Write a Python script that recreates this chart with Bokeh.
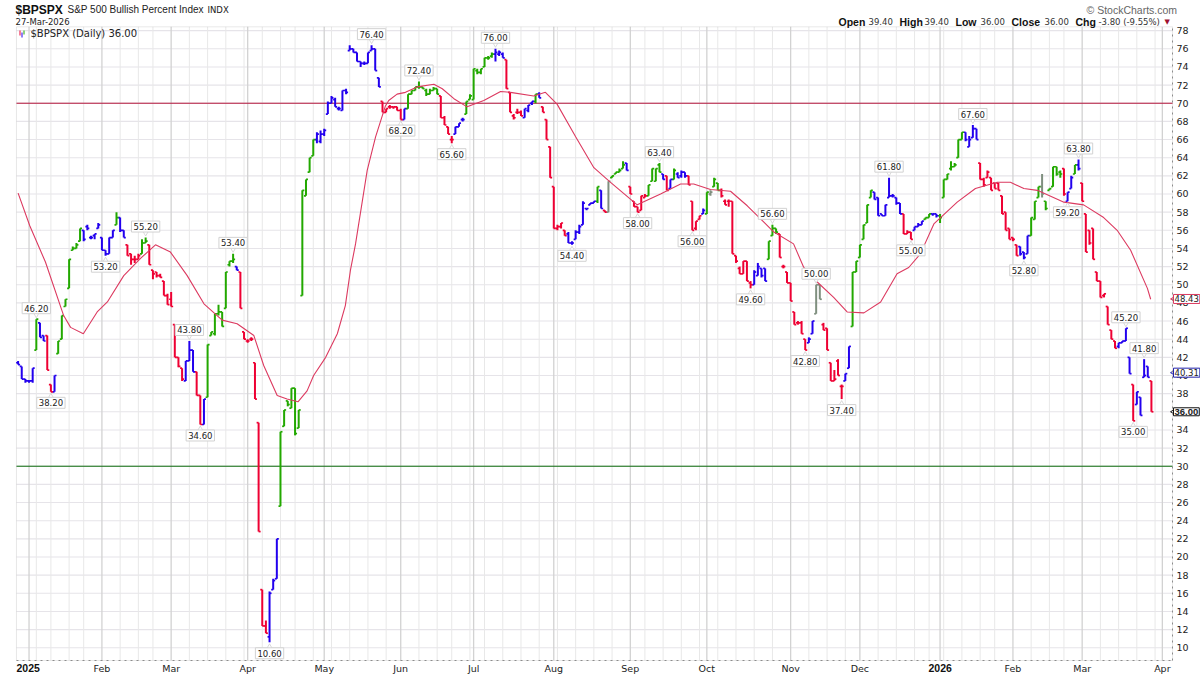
# $BPSPX daily bars with moving average, stockcharts style
import math

from bokeh.embed import file_html
from bokeh.models import BoxAnnotation, ColumnDataSource, FixedTicker, Label
from bokeh.plotting import figure
from bokeh.resources import INLINE

opens = [41.4,41.0,39.6,39.4,39.4,42.8,45.8,44.4,44.4,39.0,
 38.2,42.4,44.0,47.6,49.6,53.8,54.0,54.8,56.0,56.4,
 55.2,55.4,56.2,55.2,53.8,53.4,55.2,56.6,57.4,56.0,
 54.4,53.4,52.8,52.8,53.4,54.6,54.4,51.6,51.4,51.0,
 50.4,48.8,48.4,45.6,42.0,40.8,39.4,41.6,42.8,40.4,
 37.8,34.6,37.6,44.4,44.6,46.8,47.0,47.4,52.2,52.6,
 52.0,51.4,44.8,43.8,44.0,41.4,34.8,16.4,12.4,11.2,
 16.4,17.6,25.6,34.4,37.2,36.4,38.6,34.2,48.8,59.8,
 62.4,64.2,66.0,65.8,66.6,68.8,70.0,70.4,69.4,69.2,
 71.4,75.8,76.0,75.6,74.6,74.4,74.4,75.8,76.0,72.8,
 70.2,69.0,69.6,69.6,69.6,69.2,68.2,69.4,71.0,71.4,
 71.8,71.8,71.4,71.0,71.4,71.6,70.8,68.4,67.4,66.0,
 66.6,67.4,68.2,68.8,70.4,70.4,73.6,73.4,74.0,75.0,
 75.2,75.4,75.4,75.4,74.8,71.2,68.6,69.0,69.0,68.4,
 69.2,70.0,70.2,71.0,69.6,68.2,65.2,60.8,56.2,56.4,
 56.0,55.6,54.6,55.0,55.8,56.6,58.4,58.8,59.0,59.2,
 60.4,58.2,58.0,61.8,62.2,62.4,62.8,63.4,60.8,59.2,
 58.6,58.2,59.6,59.8,61.4,61.4,63.2,62.2,62.0,60.6,
 61.6,62.2,62.0,62.4,62.0,59.2,56.2,57.2,57.8,57.8,
 60.0,60.8,61.2,60.4,59.2,59.2,59.2,53.2,51.8,51.2,
 52.6,50.2,50.0,51.0,51.8,51.8,52.8,55.4,56.2,55.6,
 52.0,51.4,50.2,47.0,45.8,45.8,44.0,43.6,44.6,46.8,
 50.0,45.6,45.2,41.4,39.4,41.6,38.8,39.4,40.8,45.4,
 51.4,53.0,55.0,56.8,59.6,60.2,59.6,57.8,57.6,59.6,
 59.8,59.6,59.0,57.8,55.6,55.8,56.0,56.4,56.6,57.2,
 57.4,57.8,57.8,57.6,59.6,61.6,62.8,63.0,64.0,66.0,
 66.8,65.2,66.2,67.2,63.4,61.6,61.8,61.8,61.2,61.2,
 59.8,58.0,56.2,55.2,54.4,54.2,53.6,53.4,55.4,57.2,
 59.6,60.8,59.2,60.4,60.8,63.0,62.4,62.8,59.2,60.6,
 62.2,63.2,61.2,57.8,56.0,56.2,51.4,50.4,48.8,47.6,
 45.0,43.8,43.2,43.6,43.8,42.0,39.0,36.8,37.6,39.8,41.0,39.4]

highs = [41.6,41.0,39.6,39.4,40.8,46.2,45.8,44.4,44.4,39.0,
 40.0,43.8,46.6,48.4,52.8,54.2,54.6,56.2,56.0,56.6,
 55.4,55.6,56.8,55.2,53.8,55.2,56.0,58.0,57.4,56.0,
 54.4,53.4,53.2,53.4,55.0,55.2,54.4,51.6,51.4,51.2,
 50.4,49.0,49.2,45.6,42.0,40.8,41.6,43.8,42.8,40.4,
 37.8,37.4,43.4,44.8,46.8,47.8,47.0,51.4,52.6,53.4,
 52.0,51.4,44.8,44.0,44.2,41.4,34.8,16.4,13.0,16.2,
 17.6,22.0,33.8,36.2,37.2,38.6,38.6,36.2,60.4,61.6,
 64.0,66.0,66.8,67.0,67.2,70.2,70.8,70.6,69.6,71.4,
 71.6,76.4,76.0,75.6,74.6,74.6,75.6,76.4,76.0,72.8,
 70.2,69.4,69.8,69.6,69.6,69.4,69.4,71.0,71.4,71.8,
 72.4,71.8,71.6,71.6,71.8,71.6,70.8,68.6,67.4,66.4,
 67.4,67.8,68.4,70.2,71.0,73.8,73.8,73.8,75.0,75.2,
 75.6,76.0,75.8,75.6,74.8,71.2,68.8,69.4,69.2,69.4,
 69.8,70.2,71.0,71.2,69.6,68.2,65.2,60.8,56.6,56.8,
 56.0,55.8,54.8,56.0,56.6,59.2,58.4,59.0,59.2,60.8,
 60.4,58.2,61.4,62.0,62.4,62.8,63.6,63.4,60.8,59.2,
 58.6,59.8,60.0,61.0,62.8,62.8,63.4,62.2,62.0,61.6,
 62.8,62.4,62.6,62.4,62.0,59.2,57.0,57.6,58.4,60.2,
 60.4,61.8,61.2,60.6,59.4,59.4,59.2,53.2,52.0,52.6,
 52.6,50.4,51.6,52.4,51.8,51.8,54.8,56.6,56.2,55.6,
 52.2,51.4,50.2,47.0,46.0,46.0,44.0,44.2,46.0,50.0,
 50.0,45.8,45.2,41.4,40.6,41.8,39.0,40.2,43.2,51.4,
 52.6,54.4,56.6,58.8,60.4,60.2,59.6,57.8,58.8,61.8,
 60.0,59.6,59.0,57.8,56.0,55.8,56.4,56.8,57.0,57.4,
 57.8,57.8,57.8,57.8,61.6,62.2,63.6,63.4,66.0,66.8,
 66.8,66.4,67.6,67.2,63.4,61.8,62.6,61.8,61.2,61.2,
 59.8,58.0,56.2,55.2,54.4,54.2,53.6,55.4,57.4,59.2,
 60.8,62.2,59.2,60.6,63.0,63.0,62.6,62.8,60.2,62.0,
 63.2,63.8,61.2,57.8,56.0,56.2,51.4,50.4,49.0,47.6,
 45.0,43.8,43.6,43.8,45.2,42.0,39.0,38.2,37.6,41.8,41.0,39.4]

lows = [41.2,39.6,39.2,39.2,39.2,42.8,44.2,43.8,40.6,38.2,
 38.2,42.4,44.0,47.6,49.6,53.8,54.0,54.8,54.8,56.0,
 55.0,55.0,56.2,53.8,53.2,53.4,55.2,56.6,55.8,55.2,
 53.2,52.2,52.4,52.8,53.4,54.6,52.2,50.6,50.8,50.8,
 48.8,47.8,47.6,42.0,40.9,39.4,39.4,41.6,40.4,37.8,
 34.6,34.6,37.6,44.4,44.4,46.6,45.4,47.4,52.0,52.4,
 51.6,47.4,44.0,43.6,43.8,37.4,22.8,12.4,11.6,10.6,
 16.4,17.6,25.6,34.4,36.6,36.4,33.4,34.2,48.8,59.8,
 62.4,64.2,65.6,65.6,66.4,68.8,70.0,69.6,69.2,69.2,
 71.0,75.8,75.6,74.6,74.0,74.2,74.4,75.8,73.6,71.8,
 69.0,69.0,69.4,69.4,69.2,68.2,68.2,69.4,71.0,71.4,
 71.6,71.6,70.8,71.0,71.4,71.0,68.4,67.6,66.6,65.6,
 66.6,67.4,68.0,68.8,70.4,70.4,73.2,73.2,74.0,74.8,
 75.0,74.6,75.2,75.0,71.6,69.0,68.2,68.8,68.6,68.4,
 69.0,69.8,70.0,70.6,69.0,66.0,61.8,56.2,56.0,56.2,
 55.4,54.6,54.4,55.0,55.6,56.6,58.2,58.8,59.0,59.0,
 58.4,58.0,58.0,61.8,62.2,62.4,62.8,62.6,60.0,58.6,
 58.0,58.2,59.6,59.8,61.4,61.4,62.4,61.6,60.4,60.6,
 61.6,61.8,61.8,61.8,61.0,56.0,56.0,57.2,57.8,57.8,
 59.8,60.8,60.4,59.6,58.8,58.6,53.4,52.4,51.2,51.2,
 50.4,49.6,50.0,51.0,50.8,50.4,52.8,55.4,55.6,53.0,
 51.8,50.2,48.2,45.6,45.6,44.6,42.8,43.6,44.6,46.8,
 48.4,45.0,42.8,39.4,39.4,40.0,37.4,39.4,40.8,45.4,
 51.4,53.0,55.0,56.8,59.6,59.4,57.6,57.6,57.6,59.6,
 59.6,58.8,57.8,55.6,55.6,55.0,56.0,56.4,56.6,57.2,
 57.4,57.6,57.4,56.8,59.6,61.6,62.6,63.0,64.0,66.0,
 65.8,65.2,66.2,66.0,61.6,60.8,61.8,60.4,60.6,60.4,
 57.8,56.0,55.0,54.8,53.2,53.2,52.8,53.4,55.4,57.2,
 59.6,59.6,58.2,60.4,60.8,62.0,61.8,59.8,59.2,60.6,
 62.2,62.6,59.2,53.6,54.4,52.8,50.4,48.6,48.6,45.6,
 44.0,43.0,43.0,43.6,43.8,40.2,35.0,36.8,35.6,39.8,39.8,36.0]

closes = [41.2,39.6,39.4,39.4,40.8,46.2,44.2,43.8,40.6,38.2,
 40.0,43.8,46.6,48.4,52.8,54.0,54.4,56.2,55.0,56.2,
 55.2,55.6,56.6,53.8,53.4,55.2,56.0,57.4,56.0,55.2,
 53.2,52.8,52.8,53.2,54.6,54.8,52.2,51.2,51.0,50.8,
 48.8,47.8,47.6,42.0,41.0,39.6,41.6,42.8,40.4,37.8,
 34.6,37.4,43.4,44.8,46.8,47.0,45.4,51.4,52.6,52.8,
 51.6,47.4,44.0,43.8,44.0,37.4,22.8,12.4,11.6,16.0,
 17.4,22.0,33.8,36.2,36.8,38.6,33.6,36.2,60.4,61.6,
 64.0,66.0,66.6,66.6,67.0,70.0,70.6,69.6,69.4,71.4,
 71.2,76.0,75.6,74.6,74.4,74.4,75.6,76.0,73.6,71.8,
 69.0,69.4,69.6,69.6,69.2,68.2,69.4,71.0,71.4,71.8,
 71.8,71.6,71.0,71.4,71.6,71.0,68.4,67.6,66.6,66.0,
 67.4,67.8,68.2,70.2,70.8,73.8,73.4,73.8,75.0,75.0,
 75.4,75.6,75.6,75.0,71.6,69.0,68.4,69.0,68.6,69.4,
 69.8,70.2,71.0,70.6,69.0,66.0,61.8,56.2,56.4,56.8,
 55.4,54.6,54.6,55.8,56.4,59.0,58.4,59.0,59.2,60.8,
 58.4,58.0,61.4,62.0,62.4,62.6,63.2,62.6,60.0,58.6,
 58.0,59.8,59.8,61.0,62.8,62.8,62.4,61.6,60.4,61.6,
 62.6,61.8,62.4,62.0,61.0,56.0,57.0,57.6,58.2,60.2,
 60.2,61.6,60.4,59.8,58.8,59.2,53.4,52.6,51.2,52.6,
 50.4,50.0,51.4,52.0,51.0,50.4,54.8,56.2,55.8,53.0,
 52.0,50.2,48.2,45.6,45.8,44.6,42.8,44.0,46.0,50.0,
 48.4,45.0,42.8,39.4,39.6,40.0,38.8,40.2,43.2,51.4,
 52.6,54.4,56.6,58.8,60.4,59.4,57.6,57.6,58.8,59.8,
 59.8,59.0,57.8,55.6,55.8,55.0,56.4,56.6,57.0,57.4,
 57.8,57.8,57.6,57.4,61.6,62.2,63.0,63.2,66.0,66.8,
 66.0,66.0,67.2,66.0,61.6,61.0,62.4,60.4,60.6,60.4,
 57.8,56.0,55.0,55.0,53.2,53.4,53.0,55.4,57.4,59.2,
 60.8,60.0,58.4,60.6,63.0,62.2,62.2,60.0,60.2,61.8,
 63.2,62.8,59.2,53.6,54.6,52.8,50.4,48.6,49.0,45.6,
 44.0,43.0,43.6,43.8,45.2,40.2,35.0,38.2,35.6,40.0,39.8,36.0]

# price trend class of each bar: b blue, g green, r red, k grey
trend = list("bbbbbgbbrr" "bggggggg" "bb" "bbbbbbbgbb" "rrrrggrrrr" "rrrrrrbbbr"
             "rbgggggggg" "brrrrrrrrb" "bbgggggggg" "ggbbbbbbbb" "bbbbbbbbbb"
             "rrrrrrbggg" "ggggggrrrr" "bbbggggggg" "gbbbrrrrrb" "bbgbrrrrrr"
             "rbbbbbbbbg" "brkggggbrr" "rrrggggbrb" "gbbbrrrrbg" "kggrrrrrrr"
             "rrbbbbgggr" "rrrrrrrbbk" "krrrrrrbbg" "gggggbbbbb" "bbbrrrbbbg"
             "gbbggggggg" "bbbbrrrrrr" "rrrrrbbbgg" "gkgggggrbb" "gbrrrrrrrr"
             "rrbbbbrbbbbr")

# moving average read at points along the curve
ma_idx = [0,3.2,7.5,12.5,14.4,17.9,21.7,24.5,29,33.6,37.7,41.8,46.4,51,56,60.1,64.7,67.4,71.1,73.8,
          76.8,79.3,81.1,84.4,87.6,89.8,91.2,92.6,95.8,98.1,100.8,101.7,104,106.3,109.5,114.1,116.4,
          119.6,123.2,127.8,132.4,135.1,141.5,144.7,147.9,153,158,162.5,169.9,176.3,181.8,185.4,190,
          195.5,200.1,207.4,212.8,215.6,219.3,223.8,227.5,232.1,236.7,241.2,244.4,247.6,251.3,257.7,
          262.7,268.7,272.3,276,279.7,287,292.4,297.9,301.6,305.3,309.9,310.8]
ma_val = [60.1,56.5,52.5,46.6,45.3,44.6,47.0,48.1,51.0,52.9,54.4,53.6,51.0,47.9,46.1,45.7,44.4,41.1,37.8,37.4,
          37.1,38.3,40.0,42.0,44.6,47.7,51.6,54.5,62.6,66.3,69.7,70.3,71.0,71.2,71.8,72.1,71.6,
          70.5,69.6,70.3,71.3,71.2,70.8,71.2,69.9,66.3,62.9,61.3,58.8,60.0,61.1,61.1,60.5,
          60.3,58.7,55.8,54.5,51.9,50.3,48.6,47.0,46.9,48.1,51.2,51.9,53.4,56.7,59.1,
          60.6,61.3,61.3,60.6,60.4,59.1,58.8,57.4,56.0,53.8,49.6,48.4]

# high / low callouts
up_idx = [5,35,47,59,97,110,131,176,207,219,239,262,291,304,309]
down_idx = [9,24,50,69,105,119,152,170,185,201,216,226,245,276,288,306]

month_idx = [3,23,42,63,84,105,125,147,168,189,212,231,253,273,292,314]
month_txt = ["","Feb","Mar","Apr","May","Jun","Jul","Aug","Sep","Oct","Nov","Dec","","Feb","Mar","Apr"]
week_idx = [5,9,14,18,28,33,37,47,52,57,62,67,72,76,81,86,91,96,101,110,115,119,124,128,133,138,143,148,
            153,158,163,172,177,182,187,192,197,202,207,217,222,227,236,241,246,250,254,259,264,268,
            278,283,287,297,302,307,312]
price_ticks = list(range(10, 80, 2))
upper_line, lower_line = 70, 30

W, H = 1200, 675
# extent of the price area; the frame fills the canvas so that the header and tags are not clipped
X_LO, X_HI, Y_LO, Y_HI = -0.44, 316.8, 8.59, 78.42
p = figure(width=W, height=H, x_range=(-4.83, 324.47), y_range=(6.94, 81.32), y_axis_location="right",
           toolbar_location=None, output_backend="svg", min_border=0)
p.outline_line_color = None
p.grid.visible = False

p.segment(X_LO, price_ticks, X_HI, price_ticks, line_color="#e6e4e9", line_width=1.1, level="underlay")
p.segment(week_idx, Y_LO, week_idx, Y_HI, line_color="#e8e8e8", line_width=1, level="underlay")
p.segment(month_idx, Y_LO, month_idx, Y_HI, line_color="#d2d2d2", line_width=1.3, level="underlay")
p.add_layout(BoxAnnotation(left=X_LO, right=X_HI, bottom=Y_LO, top=Y_HI, fill_alpha=0, line_color="#b4b4b4",
                           line_width=1, level="underlay"))

p.yaxis.fixed_location = X_HI
p.xaxis.fixed_location = Y_LO
p.yaxis.bounds = (Y_LO, Y_HI)
p.xaxis.bounds = (X_LO, X_HI)
p.yaxis.ticker = FixedTicker(ticks=price_ticks)
p.xaxis.ticker = FixedTicker(ticks=month_idx)
p.xaxis.major_label_overrides = dict(zip(month_idx, month_txt))
for ax in (p.xaxis[0], p.yaxis[0]):
    ax.axis_line_color = "#8c8c8c"
    ax.axis_line_dash = "dotted"
    ax.major_tick_line_color = None
    ax.minor_tick_line_color = None
    ax.major_tick_out = 0
    ax.major_tick_in = 0
    ax.minor_tick_out = 0
    ax.minor_tick_in = 0
    ax.major_label_text_font = "DejaVu Sans"
    ax.major_label_text_font_size = "9.5px"
    ax.major_label_text_color = "#222222"
p.yaxis.major_label_standoff = 4
p.xaxis.major_label_standoff = 2

p.segment(X_LO, upper_line, X_HI, upper_line, line_color="#b3123a", line_width=1)
p.segment(X_LO, lower_line, X_HI, lower_line, line_color="#0a6a0a", line_width=1)

palette = {"b": "#2200ee", "g": "#22a800", "r": "#ee0033", "k": "#7f8f7f"}
idx = list(range(len(closes)))
src = ColumnDataSource(dict(
    i=idx, o=opens, h=highs, l=lows, c=closes,
    left=[i - 0.55 for i in idx], right=[i + 0.55 for i in idx],
    color=[palette[t] for t in trend]))
p.segment("i", "l", "i", "h", source=src, line_color="color", line_width=2)
p.segment("left", "o", "i", "o", source=src, line_color="color", line_width=1.7)
p.segment("i", "c", "right", "c", source=src, line_color="color", line_width=1.7)

p.line(ma_idx, ma_val, line_color="#dc3a60", line_width=1.1)


def callout(i, val, above):
    # small pointer from the box to the bar, then the box itself
    p.scatter([i], [val + (0.55 if above else -0.55)], marker="inverted_triangle" if above else "triangle",
              size=6, fill_color="white", line_color="#cfcfcf", line_width=0.8)
    p.add_layout(Label(x=i, y=val, y_offset=11 if above else -11, text="%.2f" % val, text_align="center",
                       text_baseline="middle", text_font="DejaVu Sans", text_font_size="8.5px", text_color="#222222",
                       background_fill_color="white", border_line_color="#d2d2d2", padding=2))


for i in up_idx:
    callout(i, highs[i], True)
for i in down_idx:
    callout(i, lows[i], False)


def txt(s, x, y, size, font="Liberation Sans", style="normal", color="#222222", align="left"):
    p.add_layout(Label(x=x, y=H - y, x_units="screen", y_units="screen", text=s,
                       text_font=font, text_font_size=size, text_font_style=style, text_color=color,
                       text_align=align, text_baseline="middle"))


txt("$BPSPX", 15, 9, "12px", style="bold", color="#111111")
txt("S&P 500 Bullish Percent Index", 67, 9, "10px")
txt("INDX", 207, 9, "8.5px", font="DejaVu Sans")
txt("27-Mar-2026", 15, 21, "8.5px", font="DejaVu Sans")
txt("$BPSPX (Daily) 36.00", 30, 33, "10px", font="DejaVu Sans")
txt("© StockCharts.com", 1086, 9, "10.5px", color="#666666")
txt("2025", 16, 667, "10.5px", style="bold", color="#111111")
txt("2026", 928, 667, "10.5px", style="bold", color="#111111")
for s, x, bold in [("Open", 838, True), ("39.40", 868, False), ("High", 899, True), ("39.40", 924, False),
                   ("Low", 955, True), ("36.00", 980, False), ("Close", 1011, True), ("36.00", 1044, False),
                   ("Chg", 1075, True), ("-3.80 (-9.55%)", 1098, False)]:
    if bold:
        txt(s, x, 21, "10.5px", style="bold", color="#111111")
    else:
        txt(s, x, 21, "8.5px", font="DejaVu Sans", color="#333333")
txt("▼", 1164, 21, "7px", font="DejaVu Sans", color="#a01030")

# little bar icon in front of the legend text
for left, top, bottom, col in [(19, 30, 35, "r"), (21, 32, 37, "b"), (23, 30, 34, "g")]:
    p.add_layout(BoxAnnotation(left=left, right=left + 1, top=H - top, bottom=H - bottom, left_units="screen",
                               right_units="screen", top_units="screen", bottom_units="screen",
                               fill_color=palette[col], fill_alpha=1, line_color=None))

# last value tags on the price axis
for val, col, font, style in [(48.43, "#dc3a60", "DejaVu Sans", "normal"), (40.31, "#2222aa", "DejaVu Sans", "normal"),
                              (36.00, "#111111", "Liberation Sans", "bold")]:
    p.scatter([X_HI + 0.4], [val], marker="triangle", angle=math.pi / 2, size=6, fill_color="white", line_color=col)
    p.add_layout(Label(x=1173, y=val, x_units="screen", text="%.2f" % val, text_baseline="middle",
                       text_font=font, text_font_size="8.5px" if style == "normal" else "9.5px",
                       text_font_style=style, text_color="#222222",
                       background_fill_color="white", border_line_color=col, padding=1))

open("out.html", "w").write(file_html(p, INLINE))
